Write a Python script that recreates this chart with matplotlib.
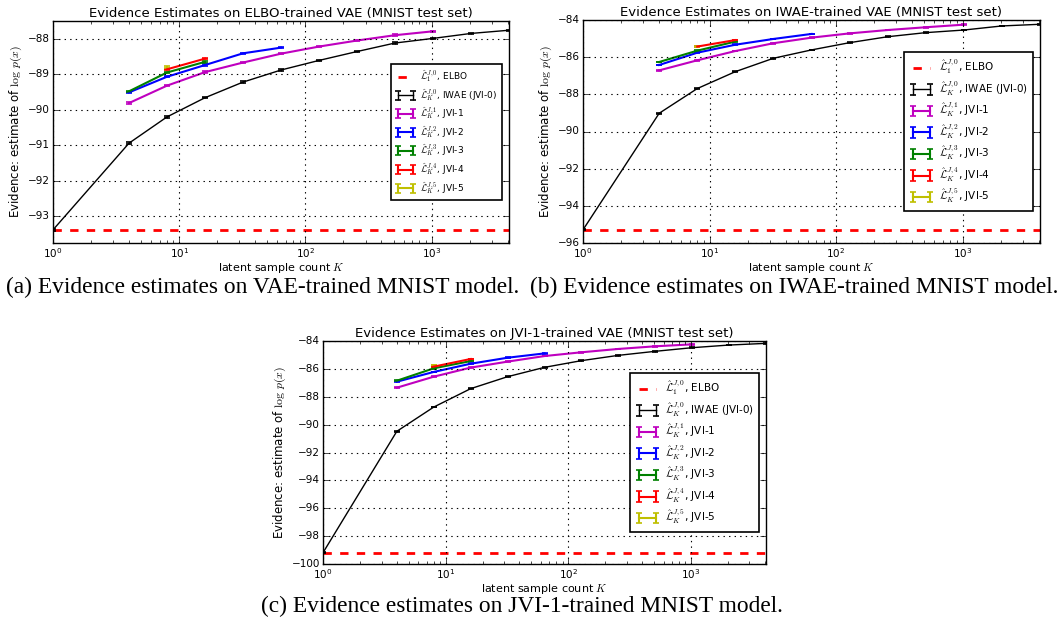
import numpy as np
import matplotlib
matplotlib.use('Agg')
import matplotlib.pyplot as plt

plt.style.use('classic')
plt.rcParams['font.family'] = 'DejaVu Sans'
plt.rcParams['mathtext.fontset'] = 'cm'

# sample counts K
K0 = [1, 4, 8, 16, 32, 64, 128, 256, 512, 1024, 2048, 4096]
K1 = [4, 8, 16, 32, 64, 128, 256, 512, 1024]
K2 = [4, 8, 16, 32, 64]
K3 = [4, 8, 16]
K4 = [8, 16]
K5 = [8]

# (a) ELBO-trained VAE
elbo_a = -93.39
a0 = [-93.38, -90.94, -90.20, -89.66, -89.22, -88.88, -88.61, -88.36, -88.12, -87.99, -87.85, -87.76]
a1 = [-89.81, -89.32, -88.94, -88.67, -88.42, -88.22, -88.05, -87.90, -87.79]
a2 = [-89.51, -89.07, -88.74, -88.41, -88.25]
a3 = [-89.48, -88.95, -88.65]
a4 = [-88.86, -88.56]
a5 = [-88.79]

# (b) IWAE-trained VAE
elbo_b = -95.29
b0 = [-95.29, -89.02, -87.69, -86.78, -86.06, -85.61, -85.22, -84.90, -84.68, -84.54, -84.32, -84.23]
b1 = [-86.71, -86.17, -85.67, -85.25, -84.95, -84.72, -84.54, -84.39, -84.25]
b2 = [-86.42, -85.76, -85.33, -85.02, -84.75]
b3 = [-86.26, -85.65, -85.16]
b4 = [-85.43, -85.08]
b5 = [-85.43]

# (c) JVI-1-trained VAE
elbo_c = -99.19
c0 = [-99.19, -90.48, -88.74, -87.42, -86.56, -85.89, -85.41, -85.03, -84.74, -84.48, -84.29, -84.17]
c1 = [-87.35, -86.56, -85.91, -85.48, -85.08, -84.81, -84.57, -84.38, -84.24]
c2 = [-86.92, -86.22, -85.63, -85.20, -84.89]
c3 = [-86.85, -85.96, -85.44]
c4 = [-85.84, -85.29]
c5 = [-85.72]

err = 0.02

Ks = [K0, K1, K2, K3, K4, K5]
colores = ['k', 'm', 'b', 'g', 'r', 'y']
nombres = [r'$\hat{\mathcal{L}}_K^{J,0}$, IWAE (JVI-0)',
           r'$\hat{\mathcal{L}}_K^{J,1}$, JVI-1',
           r'$\hat{\mathcal{L}}_K^{J,2}$, JVI-2',
           r'$\hat{\mathcal{L}}_K^{J,3}$, JVI-3',
           r'$\hat{\mathcal{L}}_K^{J,4}$, JVI-4',
           r'$\hat{\mathcal{L}}_K^{J,5}$, JVI-5']

W, H = 1062., 621.
fig = plt.figure(figsize=(W/100, H/100), dpi=100)
fig.patch.set_facecolor('white')

def panel(rect, elbo, series, titulo, ylim, yticks, legsize, lspace, caption, capx, capy):
    l, r, t, b = rect
    ax = fig.add_axes([l/W, 1 - b/H, (r - l)/W, (b - t)/H])
    ax.axhline(elbo, color='r', ls='--', lw=2, label=r'$\hat{\mathcal{L}}_1^{J,0}$, ELBO')
    for i in range(6):
        lw = 1.0 if i == 0 else 1.5
        ax.errorbar(Ks[i], series[i], yerr=err, color=colores[i], ecolor=colores[i],
                    lw=lw, capsize=2.5, mew=1.2, label=nombres[i])
    ax.set_xscale('log')
    ax.set_xlim(1, 4096)
    ax.set_ylim(ylim)
    ax.set_yticks(yticks)
    ax.grid(True, color='k', ls=':', lw=0.8)
    ax.tick_params(labelsize=7.5, pad=2)
    ax.set_title(titulo, fontsize=9.5, pad=3)
    ax.set_xlabel(r'latent sample count $K$', fontsize=8, labelpad=1)
    ax.set_ylabel(r'Evidence: estimate of $\log\, p(x)$', fontsize=8.5, labelpad=3)
    leg = ax.legend(loc='center right', bbox_to_anchor=(0.995, 0.5), fontsize=legsize,
                    numpoints=2, fancybox=False, handlelength=2.3, borderpad=0.5,
                    labelspacing=lspace, handletextpad=0.5)
    leg.get_frame().set_linewidth(1.2)
    fig.text(capx/W, 1 - capy/H, caption, family='Liberation Serif', fontsize=16.8,
             ha='center', va='center')
    return ax

panel((53, 509, 21, 243), elbo_a, [a0, a1, a2, a3, a4, a5],
      'Evidence Estimates on ELBO-trained VAE (MNIST test set)',
      (-93.75, -87.5), [-93, -92, -91, -90, -89, -88], 6.5, 0.3,
      '(a) Evidence estimates on VAE-trained MNIST model.', 263, 287)

panel((583, 1040, 20, 243), elbo_b, [b0, b1, b2, b3, b4, b5],
      'Evidence Estimates on IWAE-trained VAE (MNIST test set)',
      (-96, -84), [-96, -94, -92, -90, -88, -86, -84], 7.5, 0.28,
      '(b) Evidence estimates on IWAE-trained MNIST model.', 794, 287)

panel((323, 766, 341, 564), elbo_c, [c0, c1, c2, c3, c4, c5],
      'Evidence Estimates on JVI-1-trained VAE (MNIST test set)',
      (-100, -84), [-100, -98, -96, -94, -92, -90, -88, -86, -84], 7.5, 0.28,
      '(c) Evidence estimates on JVI-1-trained MNIST model.', 522, 606)

plt.savefig('out.png', dpi=100, facecolor='white')
